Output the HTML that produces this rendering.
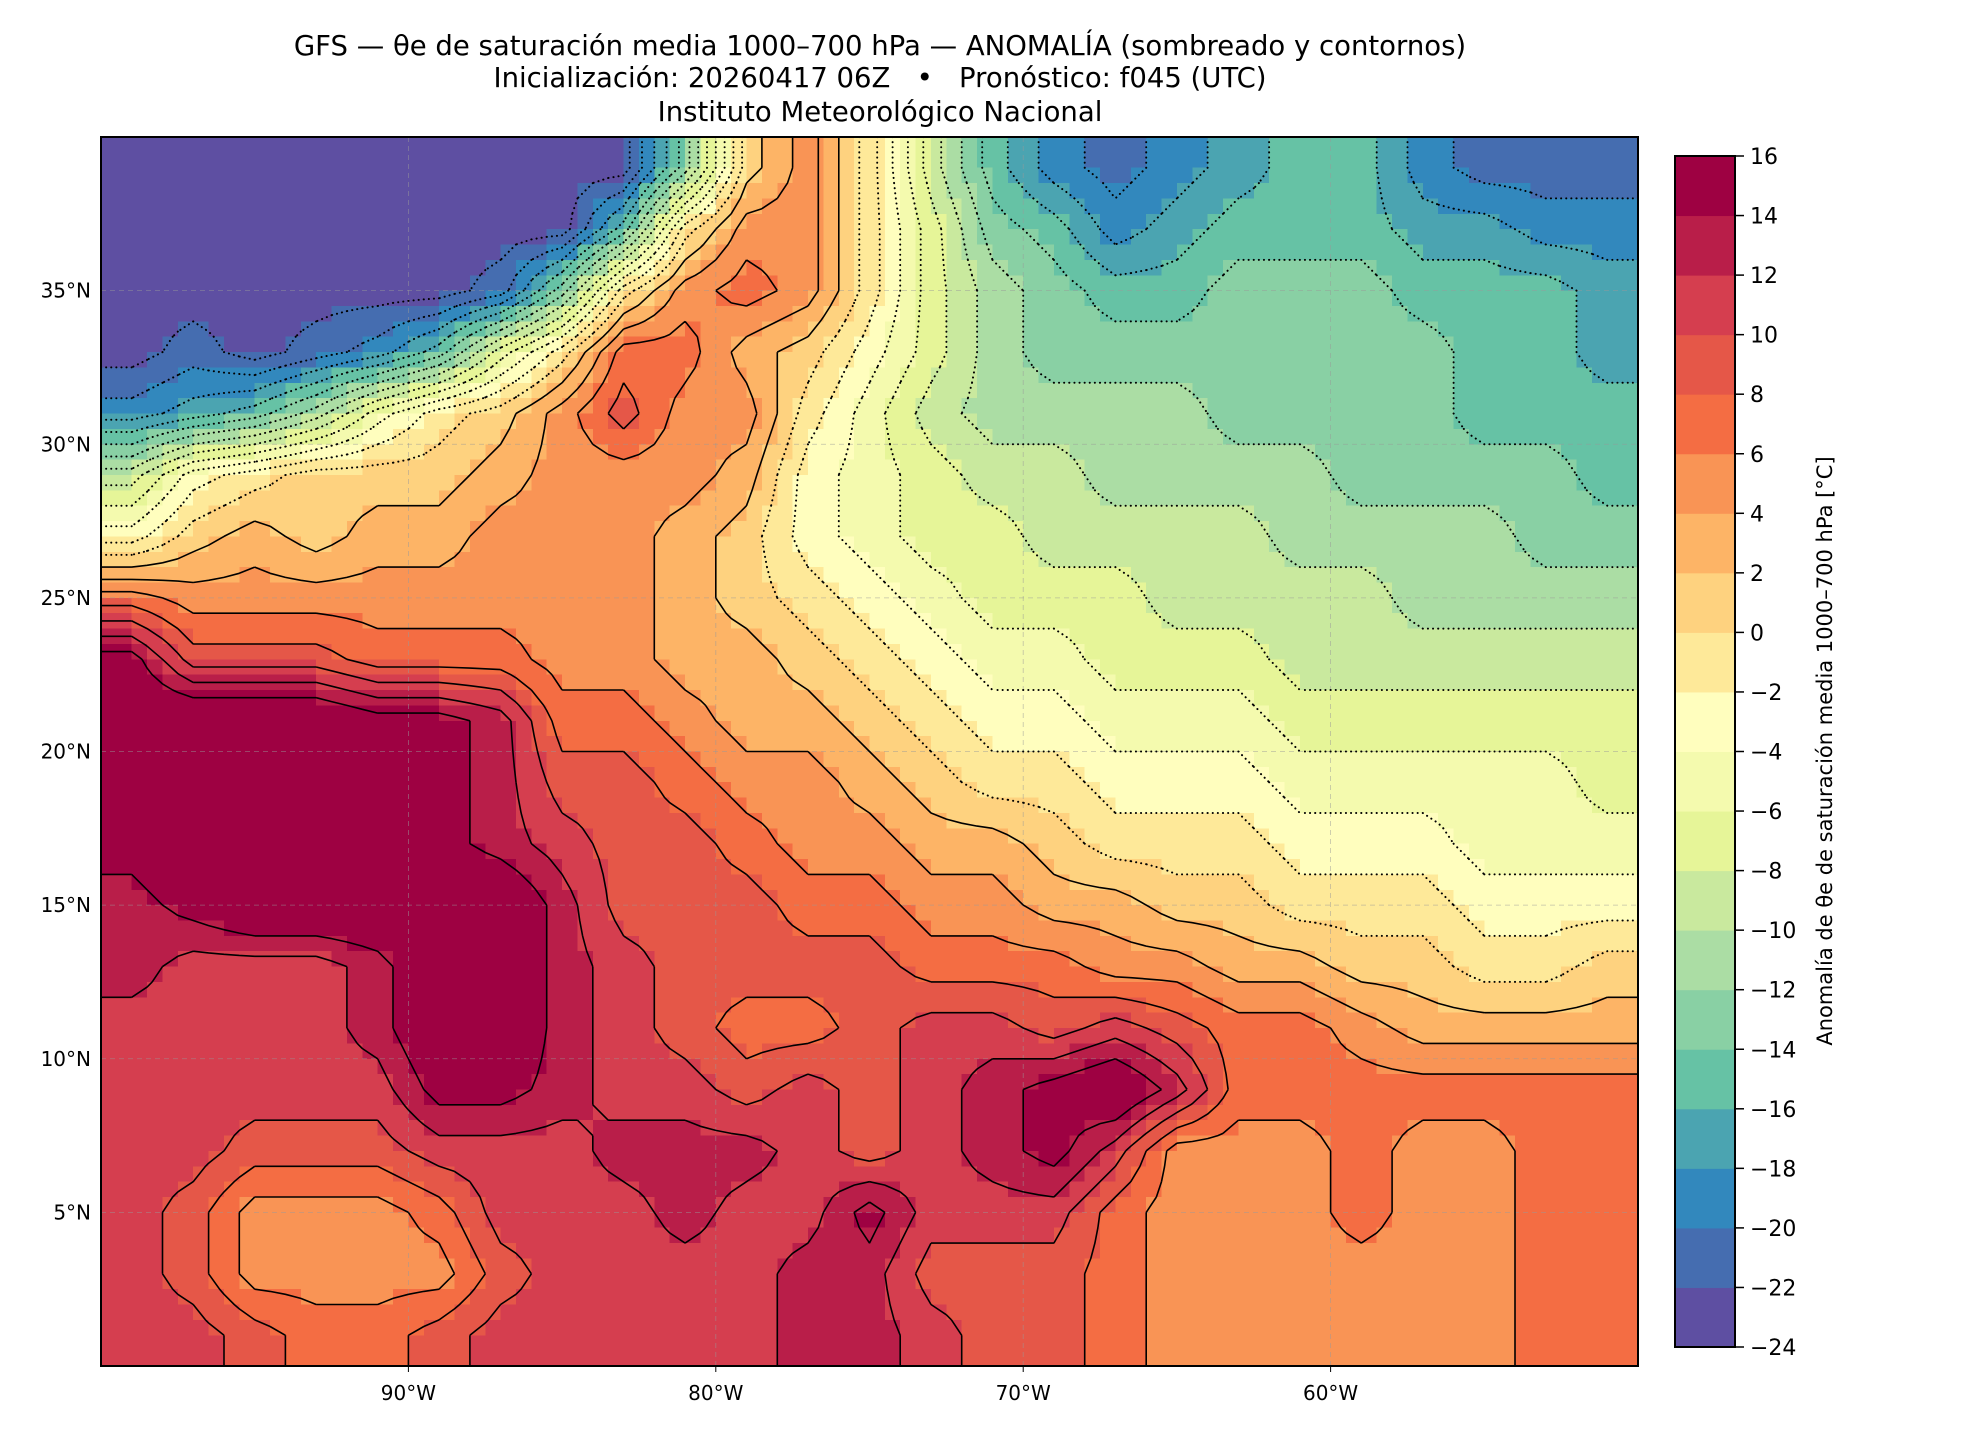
<!DOCTYPE html>
<html><head><meta charset="utf-8"><title>GFS θe anomaly</title>
<style>
html,body{margin:0;padding:0;background:#fff;}
#wrap{position:relative;width:1980px;height:1440px;overflow:hidden;font-family:"DejaVu Sans","Liberation Sans",sans-serif;}
#field{position:absolute;left:101px;top:137px;width:1537px;height:1229px;image-rendering:pixelated;}
#ov{position:absolute;left:0;top:0;}
</style></head>
<body>
<div id="wrap">
<canvas id="field" width="100" height="80"></canvas>
<svg id="ov" width="1980" height="1440" xmlns="http://www.w3.org/2000/svg">
  <g font-size="27.5" text-anchor="middle" fill="#000">
    <text x="880" y="55">GFS — θe de saturación media 1000–700 hPa — ANOMALÍA (sombreado y contornos)</text>
    <text x="880" y="87" xml:space="preserve">Inicialización: 20260417 06Z   •   Pronóstico: f045 (UTC)</text>
    <text x="880" y="121">Instituto Meteorológico Nacional</text>
  </g>
  <g id="grid"></g>
  <g id="contours"></g>
  <rect x="101" y="137" width="1537" height="1229" fill="none" stroke="#000" stroke-width="2"/>
  <g id="xticks" font-size="20"></g>
  <g id="yticks" font-size="20"></g>
  <g id="cbar"></g>
  <text x="1832" y="751" font-size="21" text-anchor="middle" transform="rotate(-90 1832 751)">Anomalía de θe de saturación media 1000–700 hPa [°C]</text>
</svg>
</div>
<script>
// grid values (2° cells), rows north→south (lat centers 39..1N), cols west→east (lon centers 99W..51W)
const lonCenters = [-99,-97,-95,-93,-91,-89,-87,-85,-83,-81,-79,-77,-75,-73,-71,-69,-67,-65,-63,-61,-59,-57,-55,-53,-51];
const latCenters = [39,37,35,33,31,29,27,25,23,21,19,17,15,13,11,9,7,5,3,1];
const row00 = [-24,-24,-24,-24,-24,-24,-24,-24,-24,-14,0,4,-2,-10,-16,-20,-22,-20,-18,-16,-16,-20,-22,-22,-22];
const row01 = [-24,-24,-24,-24,-24,-24,-24,-24,-16,-2,4,4,-2,-8,-14,-16,-20,-18,-16,-16,-16,-18,-18,-20,-20];
const row02 = [-24,-24,-24,-24,-24,-24,-22,-14,-2,4,6,4,-2,-8,-12,-14,-16,-16,-14,-14,-14,-16,-16,-16,-18];
const row03 = [-24,-22,-24,-22,-20,-16,-8,-2,6,6,2,0,-4,-8,-12,-14,-14,-14,-14,-14,-14,-14,-16,-16,-18];
const row04 = [-20,-18,-16,-12,-6,-2,0,4,8,4,4,-2,-6,-10,-12,-12,-12,-12,-14,-14,-14,-14,-16,-16,-16];
const row05 = [-10,-4,-2,0,0,0,2,4,4,4,2,-4,-6,-8,-10,-10,-12,-12,-12,-12,-14,-14,-14,-14,-16];
const row06 = [-4,0,2,0,2,2,4,4,4,2,0,-4,-6,-8,-8,-10,-10,-10,-10,-12,-12,-12,-12,-14,-14];
const row07 = [6,4,4,4,4,4,4,4,4,2,0,-2,-4,-6,-8,-8,-8,-10,-10,-10,-10,-12,-12,-12,-12];
const row08 = [14,8,8,8,6,6,6,4,4,2,2,0,-2,-4,-6,-6,-8,-8,-8,-10,-10,-10,-10,-10,-10];
const row09 = [16,16,16,16,14,14,12,6,6,4,2,2,0,-2,-4,-4,-6,-6,-6,-8,-8,-8,-8,-8,-8];
const row10 = [16,16,16,16,16,14,12,8,8,6,4,4,2,0,-2,-2,-4,-4,-4,-6,-6,-6,-6,-6,-8];
const row11 = [14,16,16,16,16,14,12,10,8,8,6,4,4,2,2,0,-2,-2,-2,-4,-4,-4,-6,-6,-6];
const row12 = [12,14,16,16,16,16,16,12,8,8,8,6,6,4,4,2,2,0,0,-2,-2,-2,-4,-4,-4];
const row13 = [12,10,10,10,12,16,16,12,10,8,8,8,8,6,6,6,4,4,2,2,0,0,-2,-2,0];
const row14 = [10,10,10,10,12,16,16,12,10,8,6,6,8,10,10,8,10,8,6,6,4,2,2,2,2];
const row15 = [10,10,10,10,10,14,14,12,10,10,8,10,8,10,12,14,16,12,6,6,6,6,6,6,6];
const row16 = [10,10,8,8,8,10,10,10,12,12,12,10,8,10,12,14,10,4,4,4,6,4,4,6,6];
const row17 = [10,8,4,4,4,6,10,10,10,12,10,10,14,10,10,10,6,4,4,4,6,4,4,6,6];
const row18 = [10,8,4,4,4,4,8,10,10,10,10,12,12,8,8,8,6,4,4,4,4,4,4,6,6];
const row19 = [10,10,8,6,6,8,10,10,10,10,10,12,12,10,8,8,6,4,4,4,4,4,4,6,6];
const rows = [row00,row01,row02,row03,row04,row05,row06,row07,row08,row09,row10,row11,row12,row13,row14,row15,row16,row17,row18,row19];
const levels = [-24,-22,-20,-18,-16,-14,-12,-10,-8,-6,-4,-2,0,2,4,6,8,10,12,14,16];
const cbTicks = [16,14,12,10,8,6,4,2,0,-2,-4,-6,-8,-10,-12,-14,-16,-18,-20,-22,-24];
const lonTicks = [-90,-80,-70,-60];
const latTicks = [5,10,15,20,25,30,35];
const colors = ["#5e4fa2","#456db0","#3288bd","#4ba4b1","#66c2a5","#89d0a4","#abdda4","#c9e99e","#e6f598","#f4faae","#fffebe","#fee999","#fed27f","#fdb466","#f99455","#f46d43","#e55748","#d53e4f","#b91e49","#9e0142"];

const X0=101,Y0=137,W=1537,H=1229,LON0=-100,LON1=-50,LAT0=0,LAT1=40;
function xs(lon){return X0+(lon-LON0)/(LON1-LON0)*W;}
function ys(lat){return Y0+(LAT1-lat)/(LAT1-LAT0)*H;}
const NS="http://www.w3.org/2000/svg";
function mk(tag,parent){const e=document.createElementNS(NS,tag);parent.appendChild(e);return e;}

const nC=lonCenters.length,nR=latCenters.length;
function val(lon,lat){
  let fx=(lon-lonCenters[0])/2, fy=(latCenters[0]-lat)/2;
  fx=Math.max(0,Math.min(nC-1,fx)); fy=Math.max(0,Math.min(nR-1,fy));
  const i0=Math.min(nC-2,Math.floor(fx)), j0=Math.min(nR-2,Math.floor(fy));
  const tx=fx-i0, ty=fy-j0;
  const a=rows[j0][i0],b=rows[j0][i0+1],c=rows[j0+1][i0],d=rows[j0+1][i0+1];
  return (a*(1-tx)+b*tx)*(1-ty)+(c*(1-tx)+d*tx)*ty;
}
function colorOf(v){let k=Math.floor((v-levels[0])/2);k=Math.max(0,Math.min(colors.length-1,k));return colors[k];}

const cv=document.getElementById('field'),ctx=cv.getContext('2d');
const FW=100,FH=80;
const F=[];
for(let r=0;r<=FH;r++){F.push([]);for(let c=0;c<=FW;c++){F[r].push(val(LON0+c*(LON1-LON0)/FW, LAT1-r*(LAT1-LAT0)/FH));}}
for(let r=0;r<FH;r++)for(let c=0;c<FW;c++){
  const v=val(LON0+(c+0.5)*(LON1-LON0)/FW, LAT1-(r+0.5)*(LAT1-LAT0)/FH);
  ctx.fillStyle=colorOf(v+1);ctx.fillRect(c,r,1,1);
}

const grid=document.getElementById('grid');
lonTicks.forEach(l=>{const e=mk('line',grid);e.setAttribute('x1',xs(l));e.setAttribute('x2',xs(l));e.setAttribute('y1',Y0);e.setAttribute('y2',Y0+H);e.setAttribute('stroke','#999');e.setAttribute('stroke-width','0.8');e.setAttribute('stroke-dasharray','5 4');e.setAttribute('opacity','0.6');

});
latTicks.forEach(l=>{const e=mk('line',grid);e.setAttribute('y1',ys(l));e.setAttribute('y2',ys(l));e.setAttribute('x1',X0);e.setAttribute('x2',X0+W);e.setAttribute('stroke','#999');e.setAttribute('stroke-width','0.8');e.setAttribute('stroke-dasharray','5 4');e.setAttribute('opacity','0.6');

});

const cg=document.getElementById('contours');
const px=c=>X0+c*W/FW, py=r=>Y0+r*H/FH;
levels.forEach(L=>{
  if(L<=-24||L>=16) return;
  const lev=L-1;
  let d='';
  for(let r=0;r<FH;r++)for(let c=0;c<FW;c++){
    const a=F[r][c],b=F[r][c+1],cc=F[r+1][c+1],dd=F[r+1][c];
    const pts=[];
    function edge(v1,v2,x1,y1,x2,y2){if((v1<lev)!==(v2<lev)){const t=(lev-v1)/(v2-v1);pts.push([x1+(x2-x1)*t,y1+(y2-y1)*t]);}}
    edge(a,b,px(c),py(r),px(c+1),py(r));
    edge(b,cc,px(c+1),py(r),px(c+1),py(r+1));
    edge(cc,dd,px(c+1),py(r+1),px(c),py(r+1));
    edge(dd,a,px(c),py(r+1),px(c),py(r));
    for(let k=0;k+1<pts.length;k+=2)d+=`M${pts[k][0].toFixed(1)},${pts[k][1].toFixed(1)}L${pts[k+1][0].toFixed(1)},${pts[k+1][1].toFixed(1)}`;
  }
  if(!d) return;
  const p=mk('path',cg);p.setAttribute('d',d);p.setAttribute('fill','none');p.setAttribute('stroke','#000');
  if(lev<0){p.setAttribute('stroke-width','2');p.setAttribute('stroke-dasharray','0.1 5');p.setAttribute('stroke-linecap','round');}
  else{p.setAttribute('stroke-width','1.6');}
  
  
});

const xt=document.getElementById('xticks');
lonTicks.forEach(l=>{
  const t=mk('line',xt);t.setAttribute('x1',xs(l));t.setAttribute('x2',xs(l));t.setAttribute('y1',Y0+H);t.setAttribute('y2',Y0+H+6);t.setAttribute('stroke','#000');
  
  
  const e=mk('text',xt);e.setAttribute('x',xs(l));e.setAttribute('y',Y0+H+34);e.setAttribute('text-anchor','middle');e.textContent=Math.abs(l)+'°W';
  
  
});
const yt=document.getElementById('yticks');
latTicks.forEach(l=>{
  const e=mk('text',yt);e.setAttribute('x',X0-10);e.setAttribute('y',ys(l)+7);e.setAttribute('text-anchor','end');e.textContent=l+'°N';
  
  
});

const cb=document.getElementById('cbar');
const CX=1675,CW=60,CT=156,CB=1347;
const cy=v=>CB-(v-levels[0])/(levels[levels.length-1]-levels[0])*(CB-CT);
colors.forEach((col,k)=>{
  const r=mk('rect',cb);r.setAttribute('x',CX);r.setAttribute('width',CW);r.setAttribute('y',cy(levels[k+1]));r.setAttribute('height',cy(levels[k])-cy(levels[k+1])+0.5);r.setAttribute('fill',col);
  
  
});
const fr=mk('rect',cb);fr.setAttribute('x',CX);fr.setAttribute('y',CT);fr.setAttribute('width',CW);fr.setAttribute('height',CB-CT);fr.setAttribute('fill','none');fr.setAttribute('stroke','#000');fr.setAttribute('stroke-width','2');


cbTicks.forEach(v=>{
  const t=mk('line',cb);t.setAttribute('x1',CX+CW);t.setAttribute('x2',CX+CW+9);t.setAttribute('y1',cy(v));t.setAttribute('y2',cy(v));t.setAttribute('stroke','#000');t.setAttribute('stroke-width','1.5');
  
  
  const e=mk('text',cb);e.setAttribute('x',CX+CW+15);e.setAttribute('y',cy(v)+8);e.setAttribute('font-size','22');e.textContent=(v<0?'−'+Math.abs(v):String(v));
  
  
});
</script>
</body></html>
